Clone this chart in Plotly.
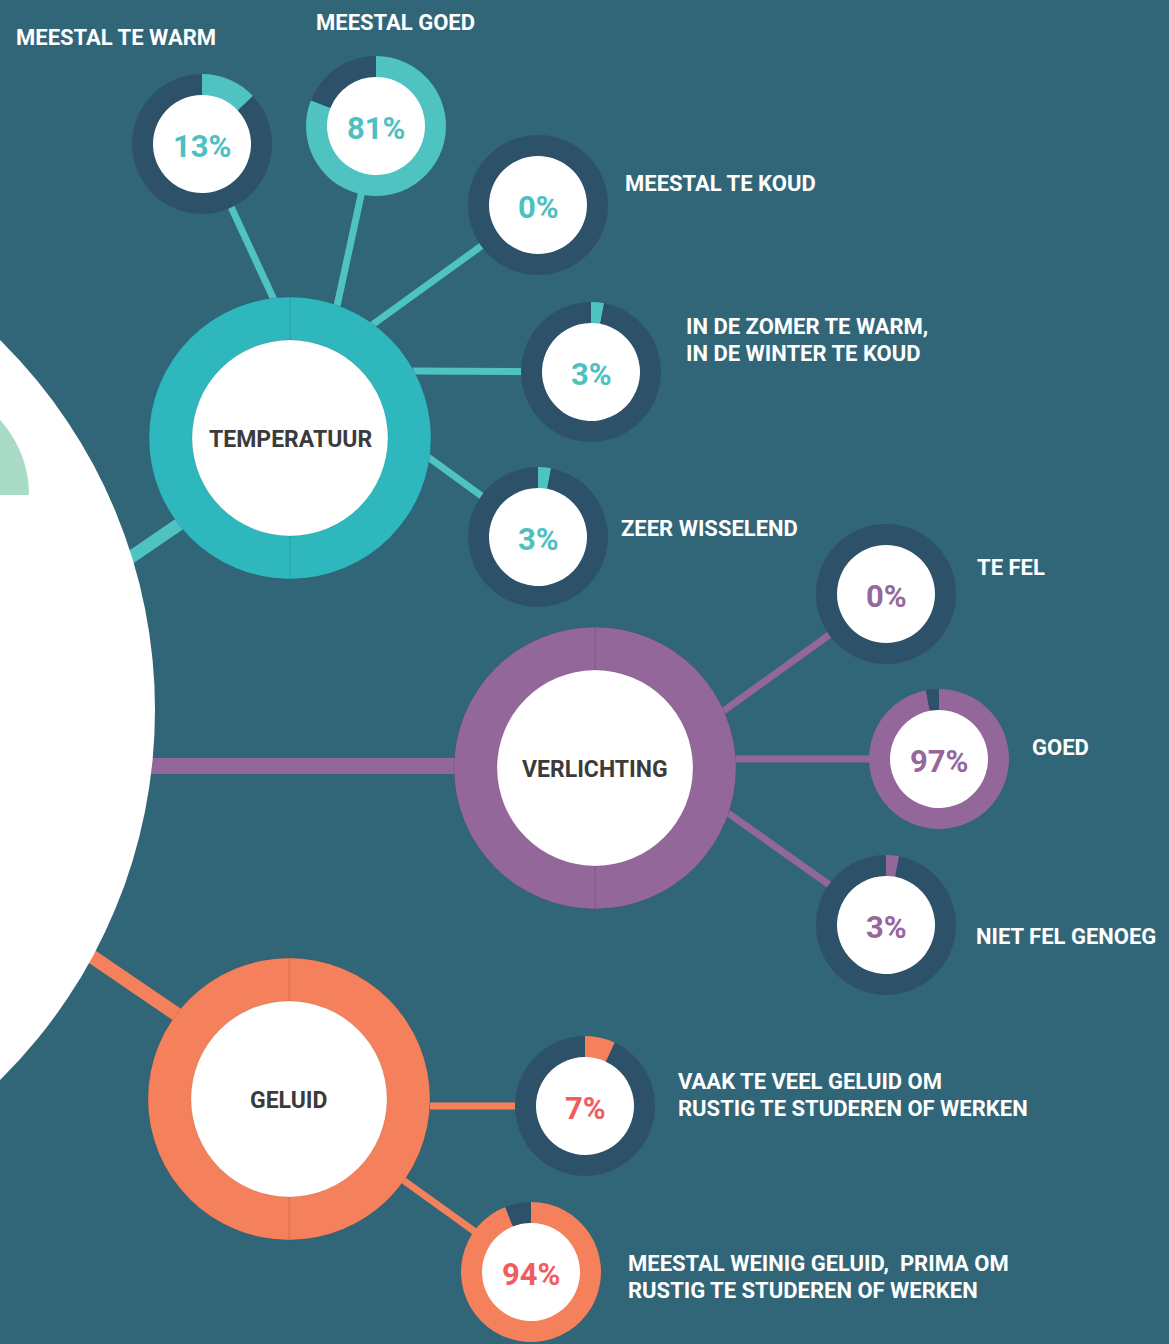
import plotly.graph_objects as go

# ---------------- data ----------------
categories = ["TEMPERATUUR", "VERLICHTING", "GELUID"]

temp_labels = ["MEESTAL TE WARM", "MEESTAL GOED", "MEESTAL TE KOUD",
               "IN DE ZOMER TE WARM,<br>IN DE WINTER TE KOUD", "ZEER WISSELEND"]
temp_values = [13, 81, 0, 3, 3]

light_labels = ["TE FEL", "GOED", "NIET FEL GENOEG"]
light_values = [0, 97, 3]

sound_labels = ["VAAK TE VEEL GELUID OM<br>RUSTIG TE STUDEREN OF WERKEN",
                "MEESTAL WEINIG GELUID,  PRIMA OM<br>RUSTIG TE STUDEREN OF WERKEN"]
sound_values = [7, 94]

# ---------------- layout / style ----------------
W, H = 1169, 1344
BG = "#316679"
DARK = "#2c5169"
FONT = "Roboto, Liberation Sans Narrow, Arial"

hubs = [
    dict(cx=290, cy=438, ring="#2eb8bd", line="#4fc2c2", link=(115, 568, 200, 510, 13),
         text="#4dc0c1"),
    dict(cx=595, cy=768, ring="#94679a", line="#94679a", link=(140, 766, 470, 766, 16),
         text="#96679c"),
    dict(cx=289, cy=1099, ring="#f4815b", line="#f4815b", link=(75, 945, 185, 1020, 14),
         text="#ef5d5f"),
]
HUB_R, HUB_IN = 141, 98
SM_R, SM_IN = 70, 49
LINE_GAP = 27

# small donut positions: (cx, cy, connector start x,y, label x, first-line y)
temp_pos = [
    (202, 144, 275, 302, 14, 37),
    (376, 126, 337, 306, 314, 22),
    (538, 205, 372, 325, 623, 183),
    (591, 372, 413, 371, 684, 326),
    (538, 537, 428, 457, 619, 528),
]
light_pos = [
    (886, 594, 722, 712, 975, 567),
    (939, 759, 735, 759, 1030, 747),
    (886, 925, 728, 813, 974, 936),
]
sound_pos = [
    (585, 1106, 430, 1106, 676, 1081),
    (531, 1272, 403, 1180, 626, 1263),
]

groups = [
    (temp_labels, temp_values, temp_pos, "#4fc2c2"),
    (light_labels, light_values, light_pos, "#94679a"),
    (sound_labels, sound_values, sound_pos, "#f4815b"),
]

fig = go.Figure()
shapes = []
annotations = []


def dom(cx, cy, r):
    return dict(x=[(cx - r) / W, (cx + r) / W], y=[1 - (cy + r) / H, 1 - (cy - r) / H])


for hub, (labels, values, pos, col) in zip(hubs, groups):
    x0, y0, x1, y1, lw = hub["link"]
    shapes.append(dict(type="line", x0=x0, y0=y0, x1=x1, y1=y1, xref="x", yref="y",
                       line=dict(color=hub["line"], width=lw), layer="below"))
    for (cx, cy, sx, sy, lx, ly) in pos:
        shapes.append(dict(type="line", x0=sx, y0=sy, x1=cx, y1=cy, xref="x", yref="y",
                           line=dict(color=hub["line"], width=7), layer="below"))

BCX, BCY, BR = -364, 710, 519
shapes.append(dict(type="circle", x0=BCX - BR, x1=BCX + BR, y0=BCY - BR, y1=BCY + BR,
                   xref="x", yref="y", fillcolor="white", line=dict(width=0), layer="below"))
gcx, gcy, gr = -82.5, 495, 111.5
k = 0.5523 * gr
shapes.append(dict(type="path", xref="x", yref="y", layer="below",
                   path=f"M {gcx},{gcy - gr} C {gcx + k},{gcy - gr} {gcx + gr},{gcy - k} "
                        f"{gcx + gr},{gcy} L {gcx},{gcy} Z",
                   fillcolor="#a9dbc7", line=dict(width=0)))

for hub, (labels, values, pos, col) in zip(hubs, groups):
    r = HUB_IN + 1
    shapes.append(dict(type="circle", x0=hub["cx"] - r, x1=hub["cx"] + r,
                       y0=hub["cy"] - r, y1=hub["cy"] + r, xref="x", yref="y",
                       fillcolor="white", line=dict(width=0), layer="below"))
    for (cx, cy, sx, sy, lx, ly) in pos:
        r = SM_IN + 1
        shapes.append(dict(type="circle", x0=cx - r, x1=cx + r, y0=cy - r, y1=cy + r,
                           xref="x", yref="y", fillcolor="white", line=dict(width=0),
                           layer="below"))

for cat, hub, (labels, values, pos, col) in zip(categories, hubs, groups):
    fig.add_trace(go.Pie(values=[50, 50], domain=dom(hub["cx"], hub["cy"], HUB_R),
                         hole=HUB_IN / HUB_R, sort=False, direction="clockwise",
                         marker=dict(colors=[hub["ring"], hub["ring"]],
                                     line=dict(color="rgba(0,0,0,0.12)", width=0.8)),
                         textinfo="none", hoverinfo="skip", showlegend=False))
    annotations.append(dict(x=hub["cx"], y=hub["cy"] + 1, xref="x", yref="y", text=f"<b>{cat}</b>",
                            showarrow=False, font=dict(family=FONT, size=23, color="#3b3b3b")))
    for lab, v, (cx, cy, sx, sy, lx, ly) in zip(labels, values, pos):
        fig.add_trace(go.Pie(values=[v, 100 - v], domain=dom(cx, cy, SM_R),
                             hole=SM_IN / SM_R, sort=False, direction="clockwise",
                             marker=dict(colors=[col, DARK], line=dict(width=0)),
                             textinfo="none", hoverinfo="skip", showlegend=False))
        annotations.append(dict(x=cx, y=cy + 2, xref="x", yref="y", text=f"<b>{v}%</b>",
                                showarrow=False,
                                font=dict(family=FONT, size=31, color=hub["text"])))
        for i, part in enumerate(lab.split("<br>")):
            annotations.append(dict(x=lx, y=ly + i * LINE_GAP, xref="x", yref="y",
                                    text=f"<b>{part}</b>", showarrow=False,
                                    xanchor="left", yanchor="middle", align="left",
                                    font=dict(family=FONT, size=22, color="white")))

fig.update_layout(
    width=W, height=H, autosize=False,
    margin=dict(l=0, r=0, t=0, b=0, pad=0),
    paper_bgcolor=BG, plot_bgcolor=BG,
    xaxis=dict(range=[0, W], visible=False, fixedrange=True),
    yaxis=dict(range=[H, 0], visible=False, fixedrange=True),
    shapes=shapes, annotations=annotations,
)

fig.write_html("out.html", config={"displayModeBar": False},
               post_script="document.body.style.margin='0';document.body.style.overflow='hidden';")
